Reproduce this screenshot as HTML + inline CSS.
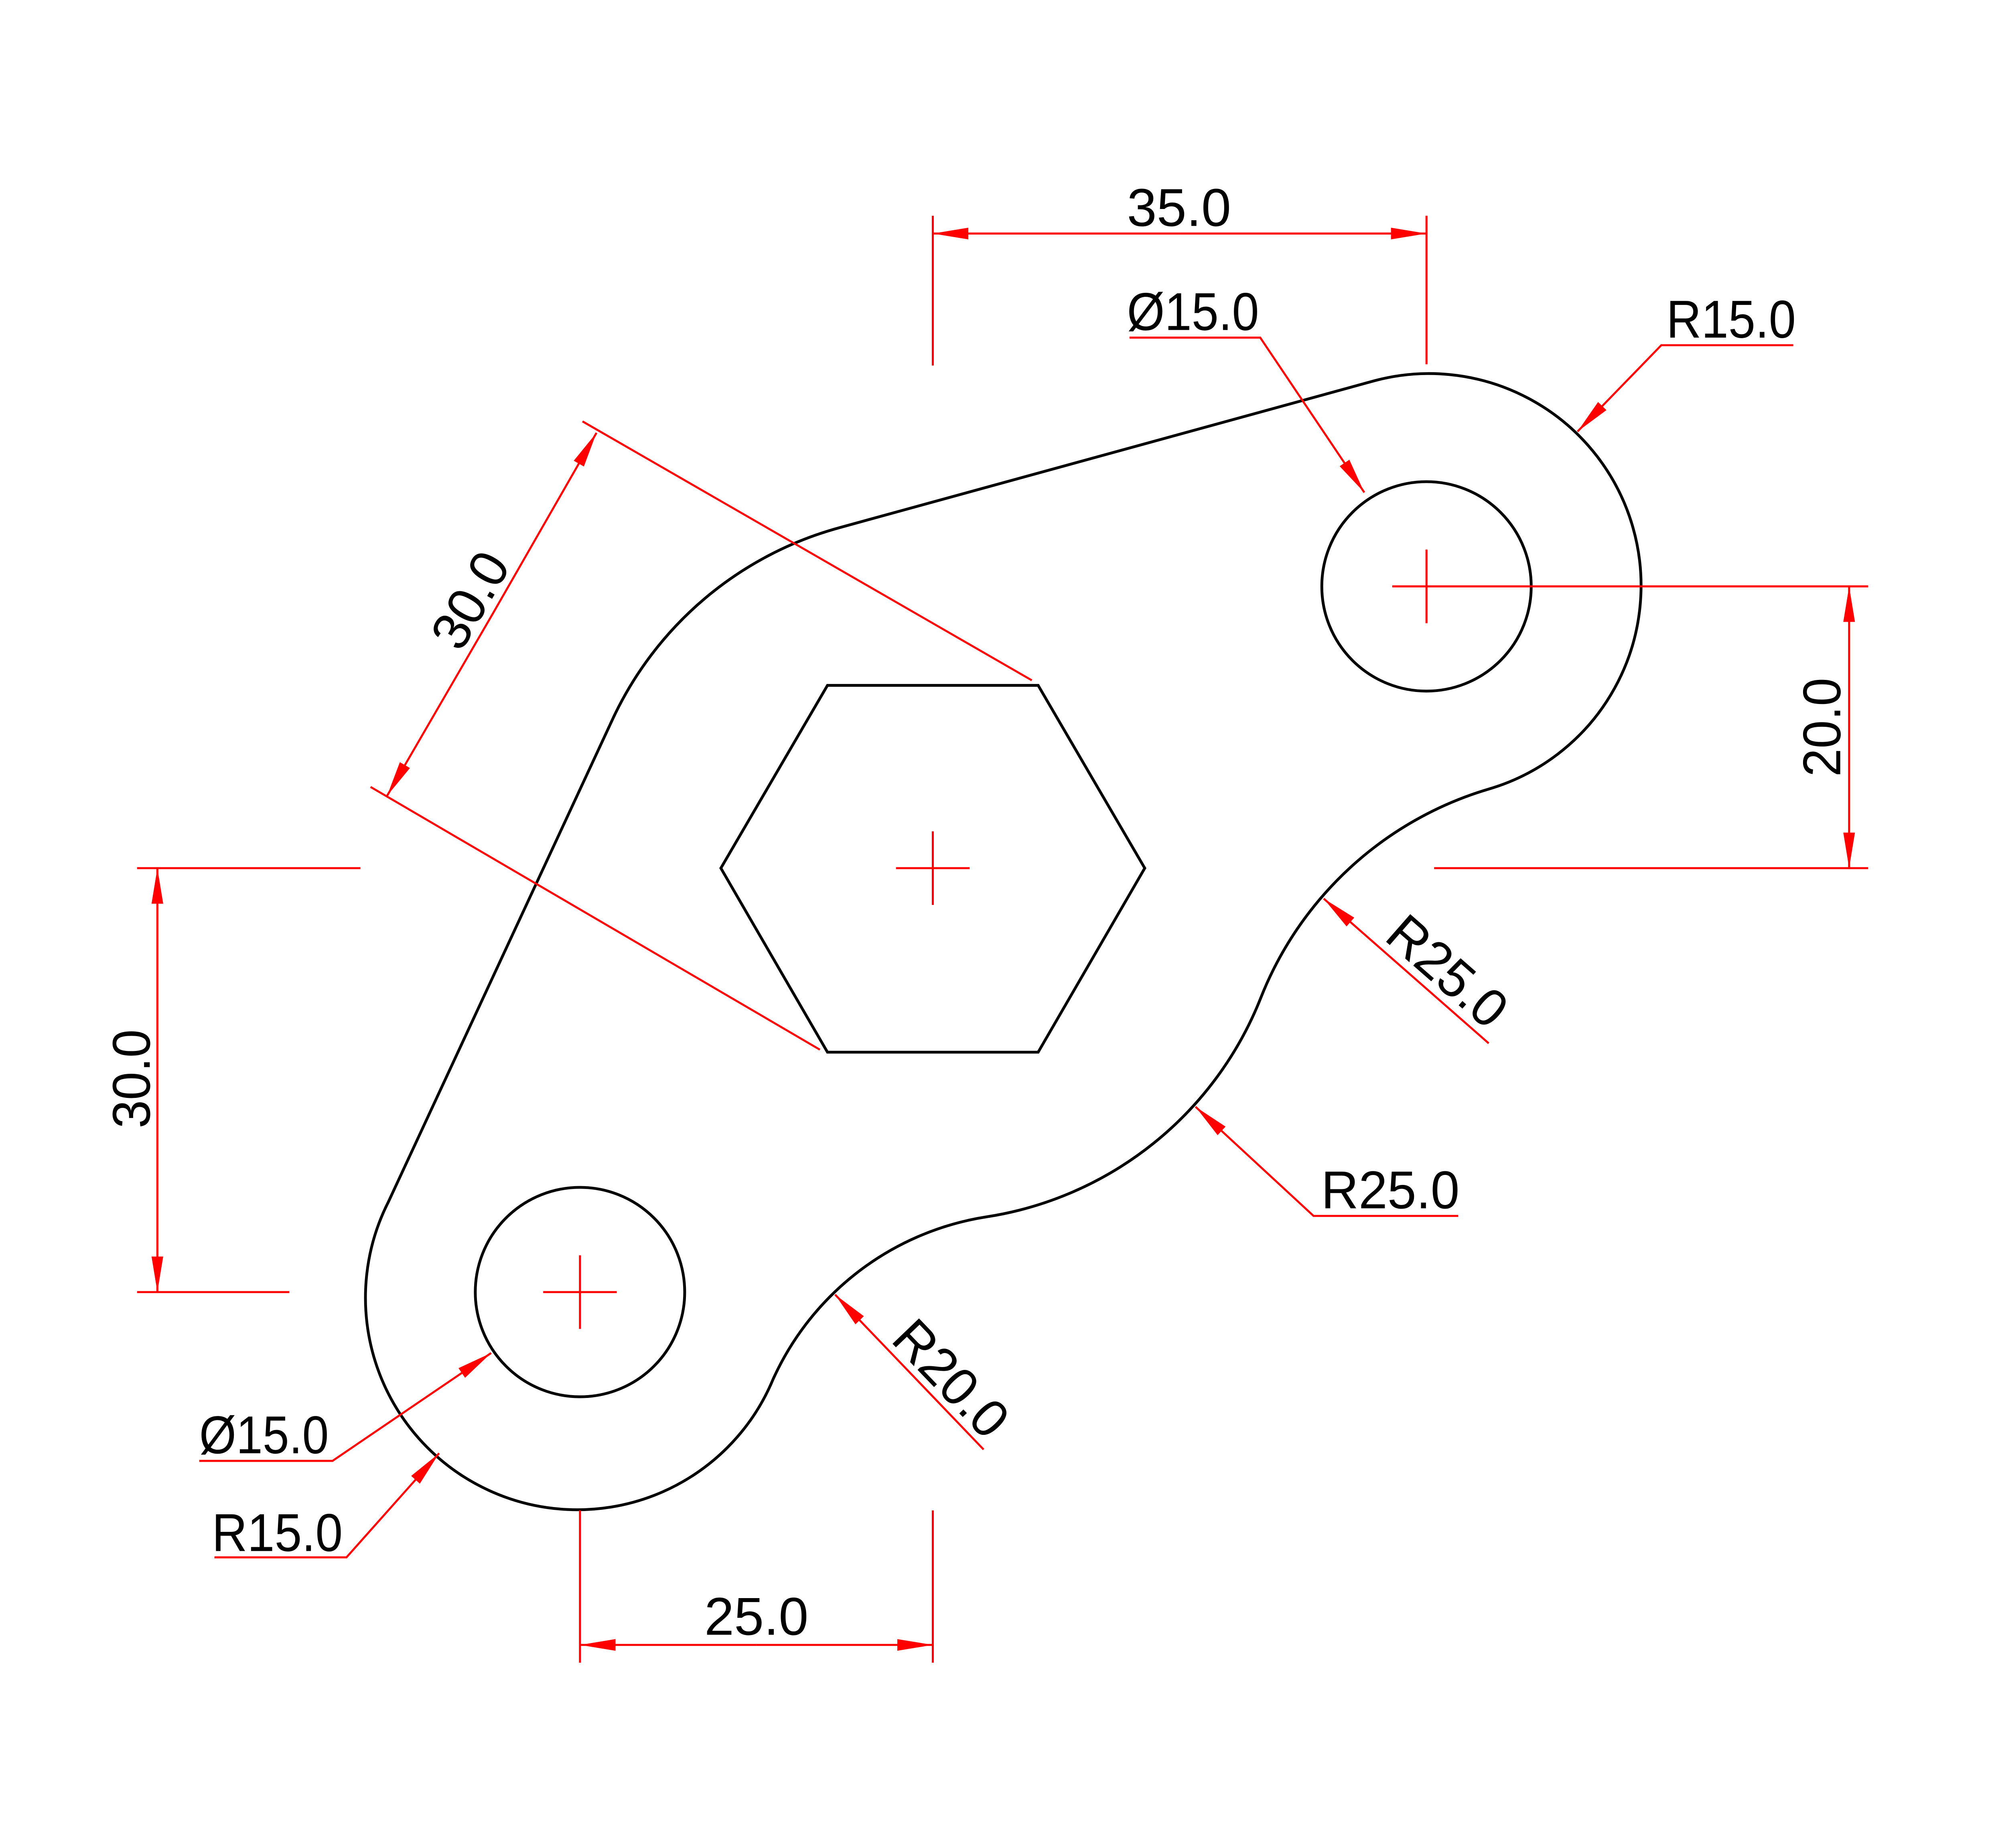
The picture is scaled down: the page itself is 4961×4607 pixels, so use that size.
<!DOCTYPE html>
<html><head><meta charset="utf-8"><style>
html,body{margin:0;padding:0;background:#fff}
svg{display:block}
text{font-family:"Liberation Sans",sans-serif;font-size:42px;fill:#000}
</style></head><body>
<svg xmlns="http://www.w3.org/2000/svg" width="4961" height="4607" viewBox="0 0 1568 1456" preserveAspectRatio="none">
<defs>
<marker id="a" markerUnits="userSpaceOnUse" markerWidth="30" markerHeight="12" refX="28" refY="5" orient="auto" viewBox="0 0 30 10">
<path d="M0,0.4 L28,5 L0,9.6 Z" fill="#f00"/>
</marker>
</defs>
<!-- part outline -->
<g fill="none" stroke="#000" stroke-width="2.2">
<path d="M661.6,415.7 L1080,300.8 A167,167 0 0 1 1172,622 A278,278 0 0 0 993.5,786 A278,278 0 0 1 777.5,958.7 A222,222 0 0 0 609,1087 A167,167 0 1 1 306,947 L483,566 A278,278 0 0 1 661.6,415.7 Z"/>
<circle cx="1124" cy="462" r="82.5"/>
<circle cx="457" cy="1018" r="82.5"/>
<polygon points="568,684 652,540 818,540 902,684 818,829 652,829"/>
</g>
<!-- red lines -->
<g fill="none" stroke="#f00" stroke-width="1.6">
<!-- crosshairs -->
<line x1="1124" y1="433" x2="1124" y2="491"/>
<line x1="428" y1="1018" x2="486" y2="1018"/><line x1="457" y1="989" x2="457" y2="1047"/>
<line x1="706" y1="684" x2="764" y2="684"/><line x1="735" y1="655" x2="735" y2="713"/>
<!-- 35.0 -->
<line x1="735" y1="170" x2="735" y2="288"/><line x1="1124" y1="170" x2="1124" y2="287"/>
<line x1="930" y1="184" x2="735" y2="184" marker-end="url(#a)"/>
<line x1="930" y1="184" x2="1124" y2="184" marker-end="url(#a)"/>
<!-- Ø15 top -->
<polyline points="890,266 993,266 1075,388" marker-end="url(#a)"/>
<!-- R15 top -->
<polyline points="1413,272 1309,272 1243,340" marker-end="url(#a)"/>
<!-- 20.0 -->
<line x1="1097" y1="462" x2="1472" y2="462"/>
<line x1="1130" y1="684" x2="1472" y2="684"/>
<line x1="1457" y1="573" x2="1457" y2="462" marker-end="url(#a)"/>
<line x1="1457" y1="573" x2="1457" y2="684" marker-end="url(#a)"/>
<!-- R25 right -->
<line x1="1173" y1="822" x2="1043" y2="708" marker-end="url(#a)"/>
<!-- R25 lower -->
<polyline points="1149,958 1035,958 942,872" marker-end="url(#a)"/>
<!-- R20 -->
<line x1="775" y1="1142" x2="658" y2="1020" marker-end="url(#a)"/>
<!-- 30.0 left -->
<line x1="108" y1="684" x2="284" y2="684"/><line x1="108" y1="1018" x2="228" y2="1018"/>
<line x1="124" y1="850" x2="124" y2="684" marker-end="url(#a)"/>
<line x1="124" y1="850" x2="124" y2="1018" marker-end="url(#a)"/>
<!-- 30.0 diagonal -->
<line x1="459" y1="332" x2="813" y2="536"/>
<line x1="292" y1="620" x2="646" y2="827"/>
<line x1="388" y1="484" x2="470" y2="341" marker-end="url(#a)"/>
<line x1="388" y1="484" x2="305" y2="627" marker-end="url(#a)"/>
<!-- Ø15 bottom -->
<polyline points="157,1151 262,1151 387,1066" marker-end="url(#a)"/>
<!-- R15 bottom -->
<polyline points="169,1227 273,1227 346,1145" marker-end="url(#a)"/>
<!-- 25.0 -->
<line x1="457" y1="1190" x2="457" y2="1310"/><line x1="735" y1="1190" x2="735" y2="1310"/>
<line x1="596" y1="1296" x2="457" y2="1296" marker-end="url(#a)"/>
<line x1="596" y1="1296" x2="735" y2="1296" marker-end="url(#a)"/>
</g>
<!-- labels -->
<text x="888" y="178" textLength="82" lengthAdjust="spacingAndGlyphs">35.0</text>
<text x="888" y="260" textLength="104" lengthAdjust="spacingAndGlyphs">Ø15.0</text>
<text x="1313" y="266" textLength="102" lengthAdjust="spacingAndGlyphs">R15.0</text>
<text x="1041" y="952" textLength="109" lengthAdjust="spacingAndGlyphs">R25.0</text>
<text x="157" y="1145" textLength="102" lengthAdjust="spacingAndGlyphs">Ø15.0</text>
<text x="167" y="1222" textLength="103" lengthAdjust="spacingAndGlyphs">R15.0</text>
<text x="555" y="1288" textLength="82" lengthAdjust="spacingAndGlyphs">25.0</text>
<text transform="translate(1450,573) rotate(-90)" text-anchor="middle" textLength="78" lengthAdjust="spacingAndGlyphs">20.0</text>
<text transform="translate(118,850) rotate(-90)" text-anchor="middle" textLength="78" lengthAdjust="spacingAndGlyphs">30.0</text>
<text transform="translate(1131,776) rotate(41.2)" text-anchor="middle" textLength="110" lengthAdjust="spacingAndGlyphs">R25.0</text>
<text transform="translate(739,1096) rotate(46.2)" text-anchor="middle" textLength="110" lengthAdjust="spacingAndGlyphs">R20.0</text>
<text transform="translate(383,480) rotate(-60)" text-anchor="middle" textLength="80" lengthAdjust="spacingAndGlyphs">30.0</text>
</svg>
</body></html>
